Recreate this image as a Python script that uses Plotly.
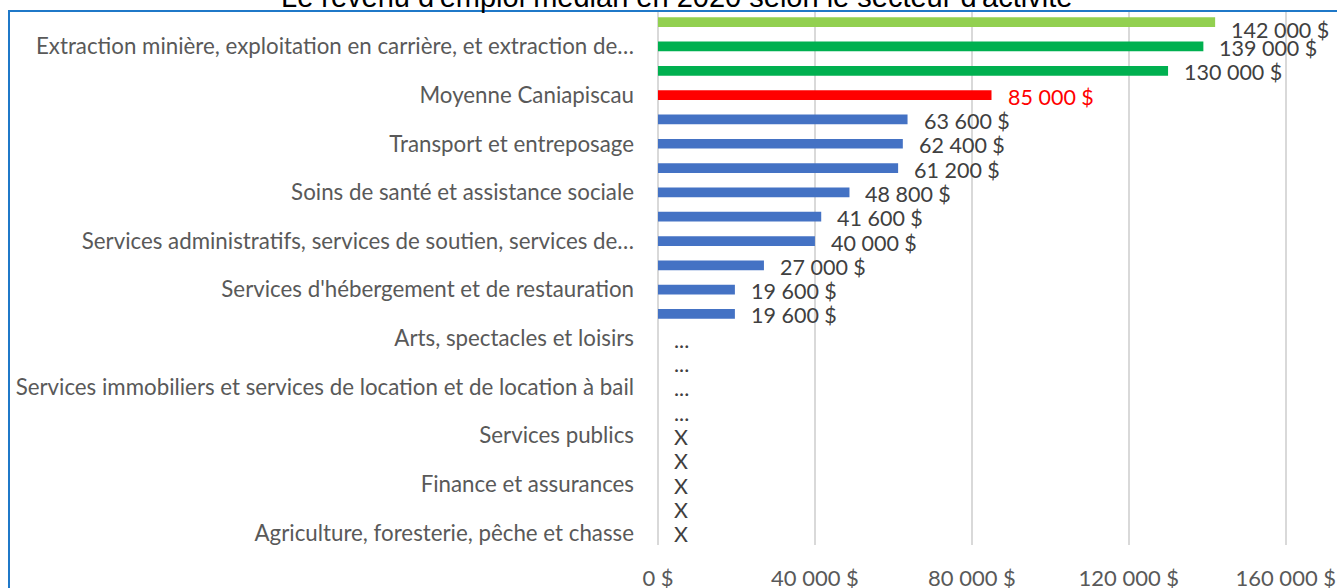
import plotly.graph_objects as go

# ---------------- data ----------------
categories = [
    "Administrations publiques",
    "Extraction minière, exploitation en carrière, et extraction de…",
    "Construction",
    "Moyenne Caniapiscau",
    "Services professionnels, scientifiques et techniques",
    "Transport et entreposage",
    "Commerce de gros",
    "Soins de santé et assistance sociale",
    "Services d'enseignement",
    "Services administratifs, services de soutien, services de…",
    "Commerce de détail",
    "Services d'hébergement et de restauration",
    "Autres services (sauf les administrations publiques)",
    "Arts, spectacles et loisirs",
    "Industrie de l'information et industrie culturelle",
    "Services immobiliers et services de location et de location à bail",
    "Gestion de sociétés et d'entreprises",
    "Services publics",
    "Fabrication",
    "Finance et assurances",
    "Industries non classées",
    "Agriculture, foresterie, pêche et chasse",
]
values = [142000, 139000, 130000, 85000, 63600, 62400, 61200, 48800, 41600,
          40000, 27000, 19600, 19600,
          None, None, None, None, None, None, None, None, None]
missing_marks = [None] * 13 + ["...", "...", "...", "...", "X", "X", "X", "X", "X"]
shown_labels = [categories[i] for i in range(1, len(categories), 2)]
x_ticks = [0, 40000, 80000, 120000, 160000]
x_ticktext = ["0 $", "40 000 $", "80 000 $", "120 000 $", "160 000 $"]
title = "Le revenu d'emploi médian en 2020 selon le secteur d'activité"

# ---------------- style ----------------
BLUE, GREEN, LGREEN, RED = "#4472C4", "#00B050", "#92D050", "#FF0000"
bar_colors = [LGREEN, GREEN, GREEN, RED] + [BLUE] * (len(categories) - 4)
label_colors = ["#404040"] * 3 + [RED] + ["#404040"] * (len(categories) - 4)
label_yshift = [-8] + [-1.5] * (len(categories) - 1)
FONT = "Lato"
TXT = "#595959"

W, H = 1337, 588
L, R, T, B = 658, 12, 10, 43
pw, ph = W - L - R, H - T - B


def fmt(v):
    return f"{v:,}".replace(",", " ") + " $"


def px2paper_x(px):
    return (px - L) / pw


def px2paper_y(py):
    return (H - B - py) / ph


fig = go.Figure()
fig.add_trace(go.Bar(
    x=[v if v is not None else 0 for v in values],
    y=categories,
    orientation="h",
    marker=dict(color=bar_colors, line=dict(width=0)),
    hoverinfo="skip",
))

annotations = []
for i, (c, v) in enumerate(zip(categories, values)):
    txt = fmt(v) if v is not None else missing_marks[i]
    annotations.append(dict(
        x=v if v is not None else 0, y=c, xref="x", yref="y",
        text=txt, showarrow=False, xanchor="left", yanchor="middle",
        xshift=14, yshift=label_yshift[i],
        font=dict(family=FONT, size=21.5, color=label_colors[i]),
    ))

# title (partly clipped by the top edge, as in the reference)
annotations.append(dict(
    x=px2paper_x(676.5), y=px2paper_y(-3), xref="paper", yref="paper",
    text=title, showarrow=False, xanchor="center", yanchor="middle",
    font=dict(family="Liberation Sans, Arial", size=29, color="#000000"),
))

n = len(categories)
fig.update_layout(
    width=W, height=H,
    margin=dict(l=L, r=R, t=T, b=B, autoexpand=False),
    paper_bgcolor="white", plot_bgcolor="white",
    showlegend=False,
    bargap=0.6,
    xaxis=dict(range=[0, 170000], tickvals=x_ticks, ticktext=x_ticktext,
               showgrid=True, gridcolor="#D9D9D9", gridwidth=1.5,
               zeroline=True, zerolinecolor="#D9D9D9", zerolinewidth=1.5,
               showline=False, ticks="", ticklabelstandoff=18,
               tickfont=dict(family=FONT, size=22, color=TXT), automargin=False),
    yaxis=dict(type="category", autorange=False, range=[n - 0.5, -0.5],
               tickmode="array", tickvals=shown_labels, ticktext=shown_labels,
               showgrid=False, zeroline=False, showline=False, ticks="",
               ticklabelstandoff=23,
               tickfont=dict(family=FONT, size=22.3, color=TXT), automargin=False),
    annotations=annotations,
    shapes=[dict(type="rect", xref="paper", yref="paper",
                 x0=px2paper_x(9), x1=px2paper_x(1360),
                 y0=px2paper_y(640), y1=px2paper_y(11),
                 line=dict(color="#1F78C8", width=2), fillcolor="rgba(0,0,0,0)",
                 layer="above")],
)

fig.write_html(
    "out.html",
    config={"displayModeBar": False},
    post_script="document.body.style.margin='0';document.body.style.overflow='hidden';",
)
